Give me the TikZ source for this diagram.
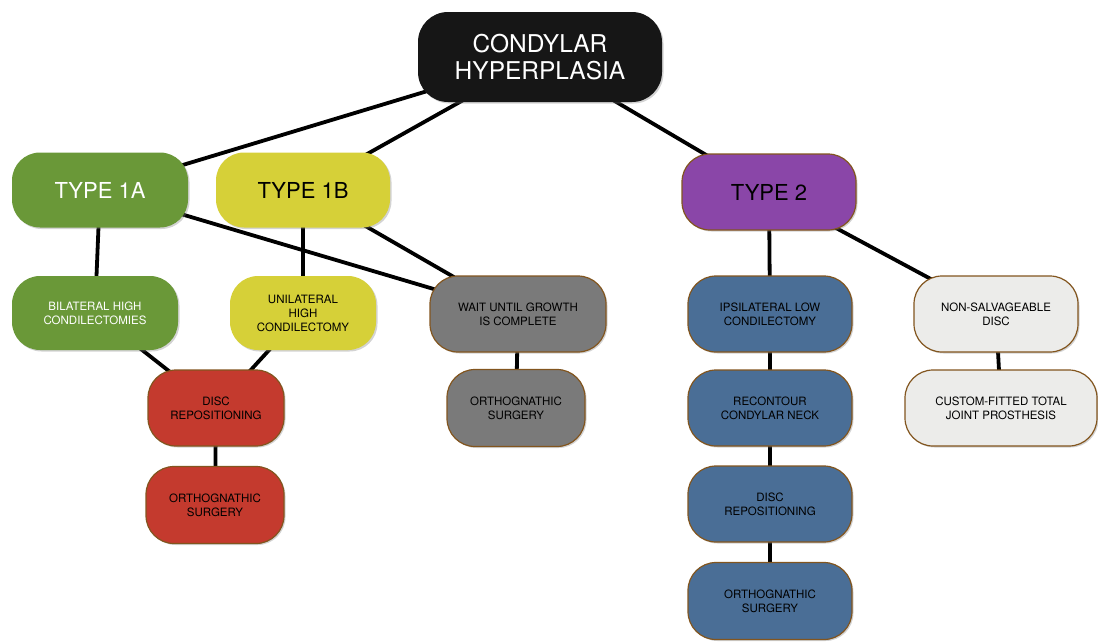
\documentclass[tikz,border=0pt]{standalone}
\usepackage{fontspec}
\setmainfont{TeX Gyre Heros}
\usetikzlibrary{shadows}
\pgfdeclarelayer{bg}
\pgfsetlayers{bg,main}
\definecolor{cgreen}{RGB}{106,152,56}
\definecolor{cyellow}{RGB}{214,208,56}
\definecolor{cpurple}{RGB}{138,70,168}
\definecolor{cgray}{RGB}{122,122,122}
\definecolor{cred}{RGB}{196,58,46}
\definecolor{cblue}{RGB}{74,110,150}
\definecolor{clight}{RGB}{236,236,234}
\definecolor{cbrown}{RGB}{130,85,30}
\definecolor{croot}{RGB}{22,22,22}
\tikzset{
  box/.style={rectangle, rounded corners=28pt, inner sep=0pt, align=center,
    drop shadow={shadow xshift=1.5pt, shadow yshift=-1.5pt, opacity=0.35},
    font=\fontsize{11.5}{14}\selectfont},
  bord/.style={draw=cbrown, line width=1.2pt},
  big/.style={font=\fontsize{22}{26}\selectfont},
  conn/.style={line width=3.8pt, black},
}
\begin{document}
\begin{tikzpicture}[x=1pt,y=-1pt]
\useasboundingbox (0,0) rectangle (1098,641);
% nodes
\node[box, fill=croot, text=white, minimum width=244pt, minimum height=90pt, rounded corners=30pt,
  font=\fontsize{24.5}{27}\selectfont] (root) at (540,57) {CONDYLAR\\HYPERPLASIA};
\node[box, big, fill=cgreen, text=white, minimum width=176pt, minimum height=75pt] (t1a) at (100,190) {TYPE 1A};
\node[box, big, fill=cyellow, minimum width=174pt, minimum height=75pt] (t1b) at (303,190) {TYPE 1B};
\node[box, big, bord, fill=cpurple, minimum width=174pt, minimum height=76pt] (t2) at (769,192) {TYPE 2};
\node[box, fill=cgreen, text=white, minimum width=166pt, minimum height=74pt] (bil) at (95,313) {BILATERAL HIGH\\CONDILECTOMIES};
\node[box, fill=cyellow, minimum width=146pt, minimum height=74pt] (uni) at (303,313) {UNILATERAL\\HIGH\\CONDILECTOMY};
\node[box, bord, fill=cgray, minimum width=176pt, minimum height=76pt] (wait) at (518,314) {WAIT UNTIL GROWTH\\IS COMPLETE};
\node[box, bord, fill=cred, minimum width=136pt, minimum height=76pt] (disca) at (216,408) {DISC\\REPOSITIONING};
\node[box, bord, fill=cred, minimum width=138pt, minimum height=77pt] (orthoa) at (215,505) {ORTHOGNATHIC\\SURGERY};
\node[box, bord, fill=cgray, minimum width=138pt, minimum height=77pt] (orthob) at (516,408) {ORTHOGNATHIC\\SURGERY};
\node[box, bord, fill=cblue, minimum width=164pt, minimum height=76pt] (ipsi) at (770,314) {IPSILATERAL LOW\\CONDILECTOMY};
\node[box, bord, fill=cblue, minimum width=164pt, minimum height=76pt] (recon) at (770,408) {RECONTOUR\\CONDYLAR NECK};
\node[box, bord, fill=cblue, minimum width=164pt, minimum height=76pt] (discc) at (770,504) {DISC\\REPOSITIONING};
\node[box, bord, fill=cblue, minimum width=164pt, minimum height=77pt] (orthoc) at (770,601) {ORTHOGNATHIC\\SURGERY};
\node[box, bord, fill=clight, minimum width=164pt, minimum height=76pt] (nons) at (996,314) {NON-SALVAGEABLE\\DISC};
\node[box, bord, fill=clight, minimum width=192pt, minimum height=76pt] (cust) at (1001,408) {CUSTOM-FITTED TOTAL\\JOINT PROSTHESIS};
% connectors
\begin{pgfonlayer}{bg}
\draw[conn] (root.center) -- (t1a.center);
\draw[conn] (root.center) -- (t1b.center);
\draw[conn] (root.center) -- (t2.center);
\draw[conn] (t1a.center) -- (bil.center);
\draw[conn] (t1a.center) -- (wait.center);
\draw[conn] (t1b.center) -- (uni.center);
\draw[conn] (t1b.center) -- (wait.center);
\draw[conn] (bil.center) -- (disca.center);
\draw[conn] (uni.center) -- (disca.center);
\draw[conn] (disca.center) -- (orthoa.center);
\draw[conn] (wait.center) -- (orthob.center);
\draw[conn] (t2.center) -- (ipsi.center);
\draw[conn] (t2.center) -- (nons.center);
\draw[conn] (ipsi.center) -- (recon.center);
\draw[conn] (recon.center) -- (discc.center);
\draw[conn] (discc.center) -- (orthoc.center);
\draw[conn] (nons.center) -- (cust.center);
\end{pgfonlayer}
\end{tikzpicture}
\end{document}
